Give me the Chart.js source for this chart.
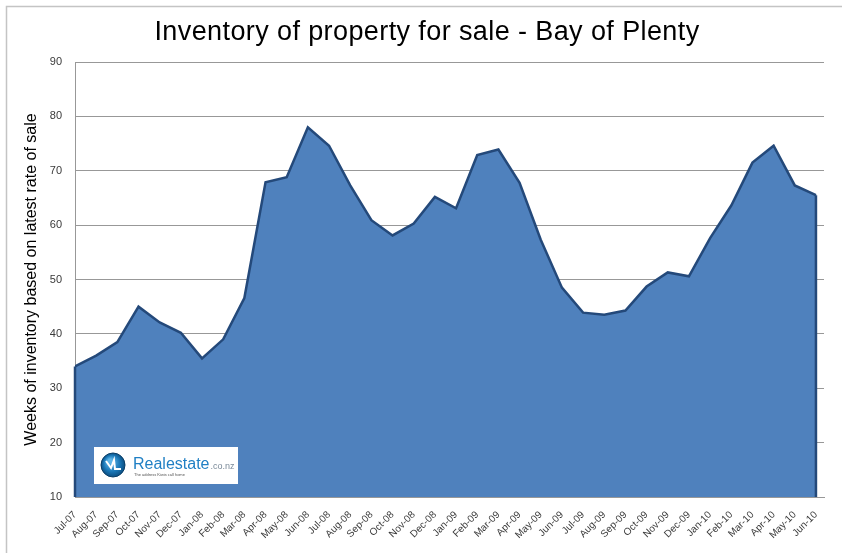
<!DOCTYPE html>
<html>
<head>
<meta charset="utf-8">
<title>Inventory of property for sale - Bay of Plenty</title>
<script src="https://cdn.jsdelivr.net/npm/chart.js@4/dist/chart.umd.min.js"></script>
<style>
  html, body { margin: 0; padding: 0; background: #fff; }
  #wrap { width: 842px; height: 553px; position: relative; }
</style>
</head>
<body>
<div id="wrap"><canvas id="inventoryChart" width="842" height="553"></canvas></div>
<script>
// Bay of Plenty - weeks of inventory, monthly Jul-07 to Jun-10

const chartTitle = 'Inventory of property for sale - Bay of Plenty';

const months = [
  'Jul-07', 'Aug-07', 'Sep-07', 'Oct-07', 'Nov-07', 'Dec-07',
  'Jan-08', 'Feb-08', 'Mar-08', 'Apr-08', 'May-08', 'Jun-08',
  'Jul-08', 'Aug-08', 'Sep-08', 'Oct-08', 'Nov-08', 'Dec-08',
  'Jan-09', 'Feb-09', 'Mar-09', 'Apr-09', 'May-09', 'Jun-09',
  'Jul-09', 'Aug-09', 'Sep-09', 'Oct-09', 'Nov-09', 'Dec-09',
  'Jan-10', 'Feb-10', 'Mar-10', 'Apr-10', 'May-10', 'Jun-10'
];

const weeksOfInventory = [
  34.0, 36.0, 38.5, 45.0, 42.1, 40.2,
  35.5, 39.0, 46.6, 67.9, 68.8, 78.0,
  74.6, 67.3, 60.9, 58.1, 60.3, 65.2,
  63.1, 72.9, 73.9, 67.8, 57.3, 48.5,
  43.9, 43.5, 44.3, 48.7, 51.3, 50.6,
  57.6, 63.6, 71.5, 74.6, 67.3, 65.5
];

const yTicks = { min: 10, max: 90, step: 10 };

const fillBlue = '#4F81BD';
const lineBlue = '#24497A';
const gridGrey = '#989898';
const textGrey = '#3a3a3a';
const fontFamily = '"Liberation Sans", Arial, sans-serif';

// outer frame + title, drawn like the spreadsheet chart
const framePlugin = {
  id: 'frame',
  beforeDraw(chart) {
    const ctx = chart.ctx;
    ctx.save();
    ctx.fillStyle = '#fff';
    ctx.fillRect(0, 0, chart.width, chart.height);
    ctx.strokeStyle = '#c4c4c4';
    ctx.lineWidth = 1.5;
    ctx.strokeRect(6.5, 6.5, 846, 560);

    ctx.fillStyle = '#000';
    ctx.font = '27px ' + fontFamily;
    ctx.textAlign = 'center';
    ctx.textBaseline = 'middle';
    ctx.letterSpacing = '0.4px';
    ctx.fillText(chartTitle, 427, 33);
    ctx.restore();
  }
};

// close the area outline down to the axis at both ends
const edgePlugin = {
  id: 'edges',
  afterDatasetsDraw(chart) {
    const pts = chart.getDatasetMeta(0).data;
    if (!pts.length) return;
    const bottom = chart.scales.y.getPixelForValue(yTicks.min);
    const ctx = chart.ctx;
    ctx.save();
    ctx.strokeStyle = lineBlue;
    ctx.lineWidth = 2.5;
    [pts[0], pts[pts.length - 1]].forEach(p => {
      ctx.beginPath();
      ctx.moveTo(p.x, p.y);
      ctx.lineTo(p.x, bottom);
      ctx.stroke();
    });
    ctx.restore();
  }
};

// Realestate.co.nz badge in the lower-left corner of the plot
const logoPlugin = {
  id: 'logo',
  afterDatasetsDraw(chart) {
    const ctx = chart.ctx;
    const x = 94, y = 447, w = 144, h = 37;
    ctx.save();
    ctx.fillStyle = '#fff';
    ctx.fillRect(x, y, w, h);

    const cx = x + 19, cy = y + 18, r = 12;
    const g = ctx.createRadialGradient(cx - 3, cy - 4, 2, cx, cy, r);
    g.addColorStop(0, '#5fb6e8');
    g.addColorStop(0.6, '#1a78b8');
    g.addColorStop(1, '#0c4f82');
    ctx.fillStyle = g;
    ctx.beginPath();
    ctx.arc(cx, cy, r, 0, Math.PI * 2);
    ctx.fill();
    ctx.strokeStyle = '#0b3f68';
    ctx.lineWidth = 1;
    ctx.stroke();
    ctx.strokeStyle = '#fff';
    ctx.lineWidth = 2;
    ctx.beginPath();
    ctx.moveTo(cx - 7, cy - 4);
    ctx.lineTo(cx - 2, cy + 3);
    ctx.lineTo(cx + 1, cy - 5);
    ctx.lineTo(cx + 2, cy + 4);
    ctx.lineTo(cx + 8, cy + 4);
    ctx.stroke();

    ctx.fillStyle = '#1f7fc4';
    ctx.font = '16px ' + fontFamily;
    ctx.textBaseline = 'alphabetic';
    ctx.fillText('Realestate', x + 39, y + 22);
    const rw = ctx.measureText('Realestate').width;
    ctx.fillStyle = '#7a8a99';
    ctx.font = '9px ' + fontFamily;
    ctx.fillText('.co.nz', x + 40 + rw, y + 22);
    ctx.fillStyle = '#555';
    ctx.font = '4px ' + fontFamily;
    ctx.fillText('The address Kiwis call home', x + 40, y + 29);
    ctx.restore();
  }
};

new Chart(document.getElementById('inventoryChart'), {
  type: 'line',
  data: {
    datasets: [{
      label: 'Weeks of inventory',
      data: weeksOfInventory.map((v, i) => ({ x: i, y: v })),
      borderColor: lineBlue,
      backgroundColor: fillBlue,
      borderWidth: 2.5,
      fill: 'start',
      tension: 0,
      pointRadius: 0,
      borderJoinStyle: 'miter'
    }]
  },
  options: {
    responsive: false,
    animation: false,
    devicePixelRatio: 1,
    layout: { padding: { left: 0, right: 18, top: 62, bottom: 0 } },
    plugins: {
      legend: { display: false },
      tooltip: { enabled: false },
      title: { display: false }
    },
    scales: {
      x: {
        type: 'linear',
        min: 0,
        max: months.length - 1 + 0.38,
        afterFit: s => { s.height = 56; },
        afterBuildTicks: s => { s.ticks = months.map((m, i) => ({ value: i })); },
        grid: { display: false },
        border: { color: gridGrey, width: 1 },
        ticks: {
          autoSkip: false,
          minRotation: 45,
          maxRotation: 45,
          padding: 4,
          color: textGrey,
          font: { size: 10, family: fontFamily },
          callback: v => months[v] || ''
        }
      },
      y: {
        min: yTicks.min,
        max: yTicks.max,
        afterFit: s => { s.width = 75; },
        grid: { color: gridGrey, lineWidth: 1, drawTicks: false },
        border: { color: gridGrey, width: 1 },
        ticks: {
          stepSize: yTicks.step,
          padding: 13,
          color: textGrey,
          font: { size: 11, family: fontFamily }
        },
        title: {
          display: true,
          text: 'Weeks of inventory based on latest rate of sale',
          color: '#000',
          font: { size: 16, family: fontFamily },
          padding: { top: 22, bottom: 0 }
        }
      }
    }
  },
  plugins: [framePlugin, edgePlugin, logoPlugin]
});
</script>
</body>
</html>
